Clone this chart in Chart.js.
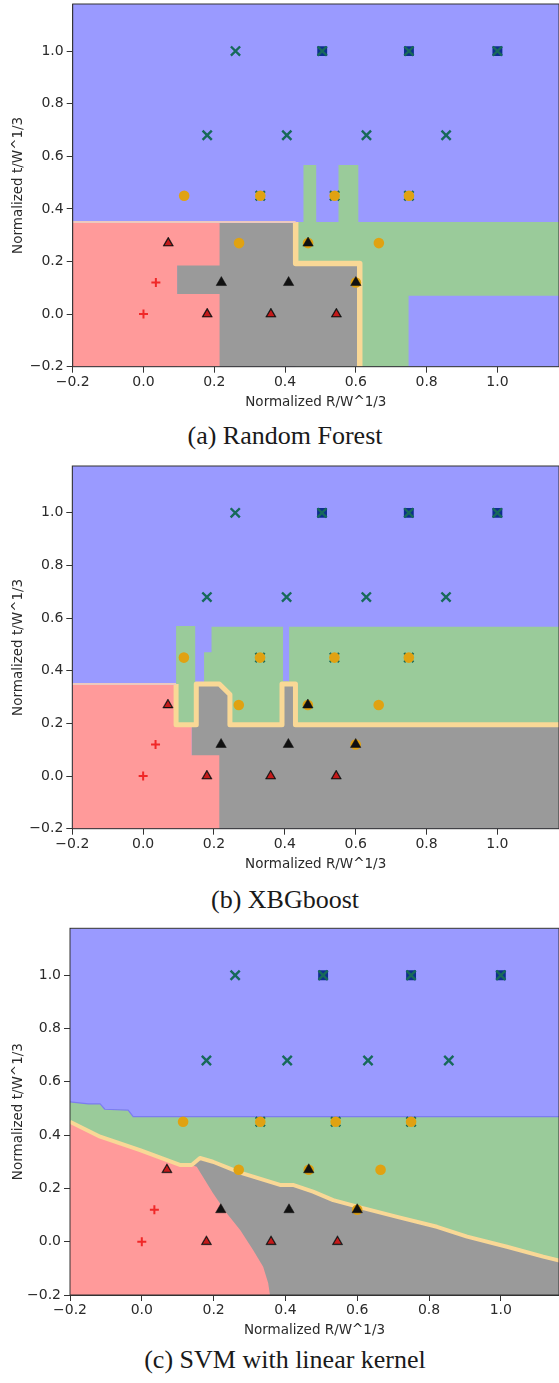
<!DOCTYPE html>
<html>
<head>
<meta charset="utf-8">
<script src="https://cdn.jsdelivr.net/npm/chart.js@4.4.1/dist/chart.umd.min.js"></script>
<style>
  body { margin: 0; background: #fff; }
  .wrap { position: relative; width: 559px; height: 1383px; overflow: hidden; }
  canvas { position: absolute; left: 0; }
  .caption { position: absolute; left: 0; width: 570px; text-align: center; font-family: "Liberation Serif", "Times New Roman", serif; font-size: 26px; line-height: 26px; color: #1a1a1a; white-space: nowrap; }
</style>
</head>
<body>
<div class="wrap">
  <canvas id="rfChart" width="559" height="412" style="top:0px"></canvas>
  <div class="caption" style="top:423px">(a) Random Forest</div>
  <canvas id="xgbChart" width="559" height="412" style="top:462px"></canvas>
  <div class="caption" style="top:887px">(b) XBGboost</div>
  <canvas id="svmChart" width="559" height="416" style="top:924px"></canvas>
  <div class="caption" style="top:1347px">(c) SVM with linear kernel</div>
</div>
<script>
// tick labels
const xTicks = [-0.2, 0, 0.2, 0.4, 0.6, 0.8, 1.0];
const yTicks = [-0.2, 0, 0.2, 0.4, 0.6, 0.8, 1.0];

// sample points (R/W^1/3, t/W^1/3), one array per marker class
const plusPts = [[0, 0], [0.035, 0.12]];
const redTriPts = [[0.07, 0.27], [0.18, 0], [0.36, 0], [0.545, 0]];
const blackTriPts = [[0.07, 0.27], [0.18, 0], [0.36, 0], [0.545, 0], [0.22, 0.12], [0.41, 0.12], [0.465, 0.27], [0.6, 0.12]];
const circlePts = [[0.115, 0.45], [0.33, 0.45], [0.54, 0.45], [0.75, 0.45], [0.27, 0.27], [0.665, 0.27], [0.465, 0.27], [0.6, 0.12]];
const crossPts = [[0.26, 1.0], [0.18, 0.68], [0.405, 0.68], [0.63, 0.68], [0.855, 0.68], [0.505, 1.0], [0.75, 1.0], [1.0, 1.0], [0.33, 0.45], [0.54, 0.45], [0.75, 0.45]];
const squarePts = [[0.505, 1.0], [0.75, 1.0], [1.0, 1.0]];

// (a) random forest decision regions
const rfGreen = [[0.43, -0.2], [1.2, -0.2], [1.2, 0.35], [0.607, 0.35], [0.607, 0.567], [0.551, 0.567], [0.551, 0.35], [0.488, 0.35], [0.488, 0.567], [0.452, 0.567], [0.452, 0.35], [0.43, 0.35]];
const rfBlueBox = [[0.749, -0.2], [1.2, -0.2], [1.2, 0.07], [0.749, 0.07]];
const rfGrey = [[0.095, -0.2], [0.611, -0.2], [0.611, 0.192], [0.43, 0.192], [0.43, 0.35], [0.095, 0.35]];
const rfRed = [[-0.2, -0.2], [0.215, -0.2], [0.215, 0.076], [0.095, 0.076], [0.095, 0.185], [0.215, 0.185], [0.215, 0.35], [-0.2, 0.35]];
const rfEdge = [[0.43, 0.35], [0.43, 0.192], [0.611, 0.192], [0.611, -0.2]];
const rfPale = [[-0.2, 0.35], [0.43, 0.35]];

// (b) xgboost decision regions
const xgbFinger = [[0.093, 0.195], [0.147, 0.195], [0.147, 0.57], [0.093, 0.57]];
const xgbMid = [[0.172, 0.195], [0.41, 0.195], [0.41, 0.36], [0.395, 0.36], [0.395, 0.567], [0.193, 0.567], [0.193, 0.47], [0.172, 0.47]];
const xgbRight = [[0.412, 0.195], [1.2, 0.195], [1.2, 0.567], [0.412, 0.567]];
const xgbGrey = [[0.137, -0.2], [1.2, -0.2], [1.2, 0.195], [0.43, 0.195], [0.43, 0.35], [0.392, 0.35], [0.392, 0.195], [0.245, 0.195], [0.245, 0.31], [0.215, 0.35], [0.15, 0.35], [0.15, 0.195], [0.137, 0.195]];
const xgbRed = [[-0.2, -0.2], [0.215, -0.2], [0.215, 0.079], [0.137, 0.079], [0.137, 0.195], [0.093, 0.195], [0.093, 0.35], [-0.2, 0.35]];
const xgbEdge = [[0.093, 0.35], [0.093, 0.195], [0.15, 0.195], [0.15, 0.35], [0.215, 0.35], [0.245, 0.31], [0.245, 0.195], [0.392, 0.195], [0.392, 0.35], [0.43, 0.35], [0.43, 0.195], [1.2, 0.195]];
const xgbPale = [[-0.2, 0.35], [0.093, 0.35]];

// (c) linear svm decision regions
const svmTop = [[-0.2, 0.525], [-0.149, 0.517], [-0.116, 0.517], [-0.103, 0.497], [-0.038, 0.494], [-0.024, 0.469], [1.2, 0.469]];
const svmEdge = [[-0.2, 0.45], [-0.116, 0.394], [-0.005, 0.344], [0.106, 0.288], [0.139, 0.288], [0.162, 0.314], [0.198, 0.3], [0.274, 0.259], [0.385, 0.213], [0.421, 0.213], [0.477, 0.188], [0.533, 0.156], [0.616, 0.126], [0.711, 0.093], [0.822, 0.056], [0.906, 0.019], [1.017, -0.019], [1.118, -0.056], [1.2, -0.083]];
const svmRedSide = [[0.153, 0.281], [0.198, 0.183], [0.236, 0.108], [0.274, 0.044], [0.31, -0.031], [0.338, -0.094], [0.352, -0.155], [0.357, -0.2]];

const BLUE = '#9a9aff', RED = '#ff9a9a', GREY = '#9a9a9a', GREEN = '#9acb9a', TAN = '#f9d896', PALE = '#ecc9bf';
const bottomCorners = [[1.2, -0.2], [-0.2, -0.2]];

const panels = {
  rfChart: {
    layers: [[GREEN, rfGreen], [BLUE, rfBlueBox], [GREY, rfGrey], [RED, rfRed]],
    edges: [[TAN, 5.5, rfEdge], [PALE, 2, rfPale]]
  },
  xgbChart: {
    layers: [[GREEN, xgbFinger], [GREEN, xgbMid], [GREEN, xgbRight], [GREY, xgbGrey], [RED, xgbRed]],
    edges: [[TAN, 5, xgbEdge], [PALE, 2, xgbPale]]
  },
  svmChart: {
    layers: [[GREEN, svmTop.concat(bottomCorners)], [GREY, svmEdge.concat(bottomCorners)],
             [RED, svmEdge.slice(0, 5).concat(svmRedSide, [[-0.2, -0.2]])]],
    edges: [['#7c7cf0', 1.2, svmTop], [TAN, 4, svmEdge]]
  }
};

const regionPlugin = {
  id: 'regions',
  beforeDatasetsDraw(chart) {
    const p = panels[chart.canvas.id];
    const {ctx, chartArea: a} = chart;
    const sx = chart.scales.x, sy = chart.scales.y;
    const path = pts => {
      ctx.beginPath();
      pts.forEach(([vx, vy], i) => {
        const px = sx.getPixelForValue(vx), py = sy.getPixelForValue(vy);
        if (i) ctx.lineTo(px, py); else ctx.moveTo(px, py);
      });
    };
    ctx.save();
    ctx.beginPath();
    ctx.rect(a.left, a.top, a.right - a.left, a.bottom - a.top);
    ctx.clip();
    ctx.fillStyle = BLUE;
    ctx.fillRect(a.left, a.top, a.right - a.left, a.bottom - a.top);
    p.layers.forEach(([color, pts]) => {
      ctx.fillStyle = color;
      path(pts);
      ctx.closePath();
      ctx.fill();
    });
    ctx.lineJoin = 'round';
    p.edges.forEach(([color, w, pts]) => {
      ctx.strokeStyle = color;
      ctx.lineWidth = w;
      path(pts);
      ctx.stroke();
    });
    ctx.restore();
  },
  afterDraw(chart) {
    const {ctx, chartArea: a} = chart;
    ctx.save();
    ctx.strokeStyle = '#333';
    ctx.lineWidth = 1;
    ctx.strokeRect(a.left, a.top, a.right - a.left, a.bottom - a.top);
    ctx.restore();
  }
};

const fmt = v => Number(v).toFixed(1).replace('-', '\u2212');
const toXY = pts => pts.map(([x, y]) => ({x, y}));

function pointSets() {
  // first dataset is drawn on top
  return [
    {data: toXY(plusPts), pointStyle: 'cross', pointRadius: 4.5, borderColor: '#f02828', borderWidth: 2},
    {data: toXY(redTriPts), pointStyle: 'triangle', pointRadius: 4.2, backgroundColor: '#c41a1a', borderWidth: 0},
    {data: toXY(blackTriPts), pointStyle: 'triangle', pointRadius: 6, backgroundColor: '#111', borderColor: '#111', borderWidth: 0.5},
    {data: toXY(circlePts), pointStyle: 'circle', pointRadius: 5.3, backgroundColor: '#e0a212', borderWidth: 0},
    {data: toXY(crossPts), pointStyle: 'crossRot', pointRadius: 6.5, borderColor: '#17695a', borderWidth: 2.4},
    {data: toXY(squarePts), pointStyle: 'rect', pointRadius: 7, backgroundColor: '#0d2f8c', borderWidth: 0}
  ];
}

function axis(dir, max, size, title) {
  return {
    type: 'linear', min: -0.2, max: max,
    afterBuildTicks: s => { s.ticks = (dir === 'x' ? xTicks : yTicks).map(v => ({value: v})); },
    afterFit: s => {
      if (dir === 'x') s.height = size; else s.width = size;
      s.paddingTop = 0; s.paddingBottom = 0; s.paddingLeft = 0; s.paddingRight = 0;
    },
    grid: {display: true, drawOnChartArea: false, drawTicks: true, tickLength: 6, tickColor: '#333', tickWidth: 1},
    border: {display: true, color: '#333', width: 1},
    ticks: {padding: dir === 'x' ? 1 : 3, color: '#2a2a2a', font: {family: 'DejaVu Sans', size: 14},
            callback: v => fmt(v), maxRotation: 0, autoSkip: false},
    title: {display: true, text: title, color: '#2a2a2a', font: {family: 'DejaVu Sans', size: 13.5},
            padding: dir === 'x' ? {top: 0, bottom: 1} : {top: 10, bottom: 0}}
  };
}

function makeChart(id, padTop, xMax, yMax, xHeight, yWidth) {
  new Chart(document.getElementById(id), {
    type: 'scatter',
    data: {datasets: pointSets()},
    options: {
      responsive: false, animation: false, devicePixelRatio: 1,
      layout: {autoPadding: false, padding: {top: padTop, left: 0, right: 0, bottom: 0}},
      plugins: {legend: {display: false}, tooltip: {enabled: false}},
      scales: {
        x: axis('x', xMax, xHeight, 'Normalized R/W^1/3'),
        y: axis('y', yMax, yWidth, 'Normalized t/W^1/3')
      }
    },
    plugins: [regionPlugin]
  });
}

makeChart('rfChart', 4, 1.174, 1.179, 45.3, 72.7);
makeChart('xgbChart', 4, 1.174, 1.178, 45.3, 72.3);
makeChart('svmChart', 4.3, 1.162, 1.176, 45, 70);
</script>
</body>
</html>
